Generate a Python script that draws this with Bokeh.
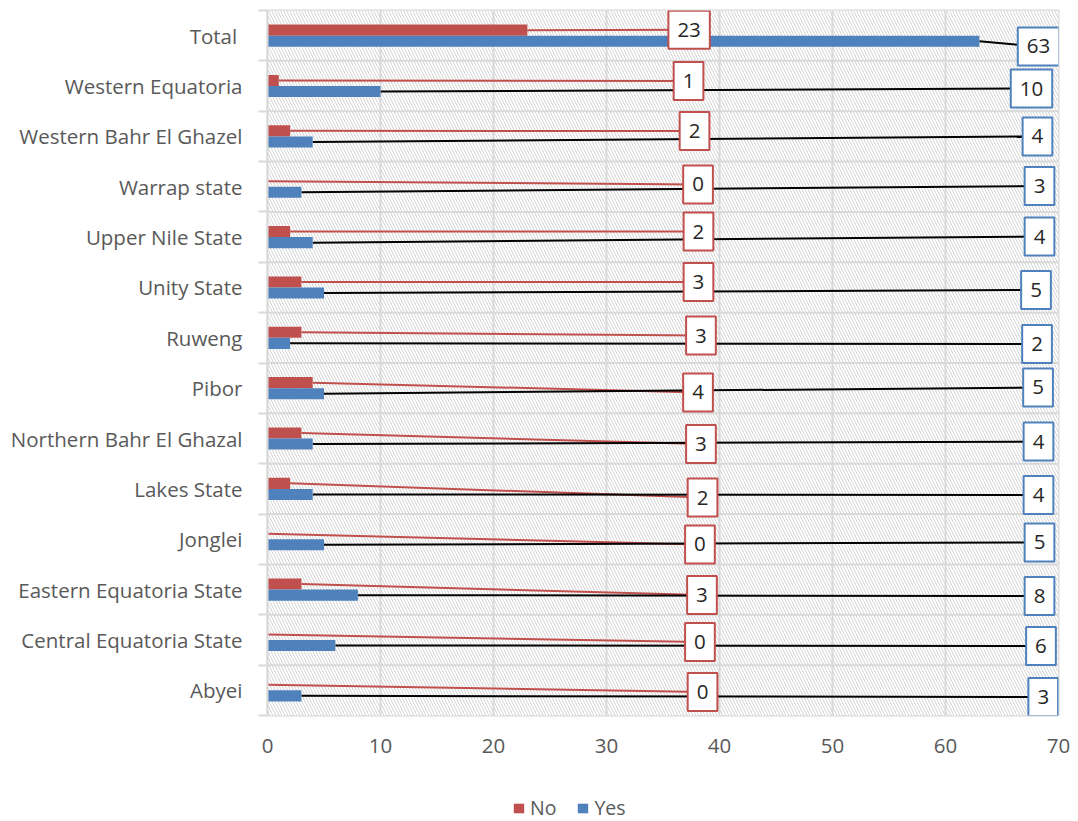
from bokeh.plotting import figure
from bokeh.layouts import column
from bokeh.models import Range1d, FixedTicker, Label, Legend, LegendItem
from bokeh.embed import file_html
from bokeh.resources import INLINE

# Rows listed bottom to top
categories = [
    "Abyei",
    "Central Equatoria State",
    "Eastern Equatoria State",
    "Jonglei",
    "Lakes State",
    "Northern Bahr El Ghazal",
    "Pibor",
    "Ruweng",
    "Unity State",
    "Upper Nile State",
    "Warrap state",
    "Western Bahr El Ghazel",
    "Western Equatoria",
    "Total ",
]
no_counts = [0, 0, 3, 0, 2, 3, 4, 3, 3, 2, 0, 2, 1, 23]
yes_counts = [3, 6, 8, 5, 4, 4, 5, 2, 5, 4, 3, 4, 10, 63]
series_names = ["No", "Yes"]
x_ticks = [0, 10, 20, 30, 40, 50, 60, 70]

# Where the boxed value call-outs sit (x in axis units, dy as a fraction of a row)
no_label_x = [38.50, 38.27, 38.45, 38.27, 38.50, 38.36, 38.10, 38.36, 38.14, 38.14, 38.10, 37.79, 37.26, 37.31]
yes_label_x = [68.65, 68.45, 68.32, 68.32, 68.23, 68.23, 68.19, 68.10, 68.01, 68.32, 68.32, 68.14, 67.61, 68.23]
no_label_dy = [-0.034, -0.04, -0.107, -0.103, -0.171, -0.109, -0.085, 0.046, 0.109, 0.111, 0.046, 0.107, 0.099, 0.119]
yes_label_dy = [-0.133, -0.119, -0.127, -0.064, -0.121, -0.06, 0.014, -0.123, -0.05, 0.012, 0.016, 0.0, -0.05, -0.214]

RED = "#c0504d"
BLUE = "#4f81bd"
GRID = "#d9d9d9"
TEXT = "#595959"
FONT = "Open Sans"
FONT_SIZE = "20.5px"

n = len(categories)
rows = list(range(n))
X_MAX = x_ticks[-1]
BAR_H = 0.22
BAR_SHIFT = 0.11

W = 1078
CHART_H = 765
LEGEND_H = 56

p = figure(
    width=W, height=CHART_H,
    output_backend="svg", toolbar_location=None,
    x_range=Range1d(0, X_MAX), y_range=Range1d(-0.5, n - 0.5),
    min_border_left=267, min_border_right=20,
    min_border_top=10, min_border_bottom=50,
)
p.background_fill_color = "white"
p.border_fill_color = "white"
p.outline_line_color = GRID
p.outline_line_width = 2
p.xgrid.visible = False
p.ygrid.visible = False

# Hatched plot area
p.quad(left=[0], right=[X_MAX], bottom=[-0.5], top=[n - 0.5],
       fill_color="white", line_color=None,
       hatch_pattern="\\", hatch_color="#d4d4d4", hatch_scale=6, hatch_weight=1)

# Grid: vertical value lines and row separators
inner_x = [t for t in x_ticks if 0 < t < X_MAX]
p.segment(x0=inner_x, y0=[-0.5] * len(inner_x), x1=inner_x, y1=[n - 0.5] * len(inner_x),
          line_color=GRID, line_width=2)
seps = [i + 0.5 for i in range(n - 1)]
p.segment(x0=[0] * len(seps), y0=seps, x1=[X_MAX] * len(seps), y1=seps,
          line_color=GRID, line_width=2)

no_y = [i + BAR_SHIFT for i in rows]
yes_y = [i - BAR_SHIFT for i in rows]

# Leader lines from bar ends to the call-outs
p.segment(x0=no_counts, y0=no_y, x1=no_label_x,
          y1=[i + d for i, d in zip(rows, no_label_dy)],
          line_color=RED, line_width=2)
p.segment(x0=yes_counts, y0=yes_y, x1=yes_label_x,
          y1=[i + d for i, d in zip(rows, yes_label_dy)],
          line_color="black", line_width=2)

p.hbar(y=no_y, left=0, right=no_counts, height=BAR_H, fill_color=RED, line_color=None)
p.hbar(y=yes_y, left=0, right=yes_counts, height=BAR_H, fill_color=BLUE, line_color=None)

# Boxed value call-outs
for i in rows:
    for val, lx, dy, col in ((no_counts[i], no_label_x[i], no_label_dy[i], RED),
                             (yes_counts[i], yes_label_x[i], yes_label_dy[i], BLUE)):
        p.add_layout(Label(
            x=lx, y=i + dy, text=str(val),
            text_align="center", text_baseline="middle",
            text_font=FONT, text_font_size=FONT_SIZE, text_color="#262626",
            background_fill_color="white",
            border_line_color=col, border_line_width=2,
            padding=(9, 12),
        ))

# Category axis
yax = p.yaxis[0]
yax.ticker = FixedTicker(ticks=rows, minor_ticks=[i - 0.5 for i in range(n + 1)])
yax.major_label_overrides = {i: c for i, c in enumerate(categories)}
yax.major_tick_line_color = None
yax.major_tick_out = 0
yax.major_tick_in = 0
yax.minor_tick_line_color = GRID
yax.minor_tick_line_width = 2
yax.minor_tick_out = 9
yax.minor_tick_in = 0
yax.axis_line_color = GRID
yax.axis_line_width = 2
yax.major_label_standoff = 16
yax.major_label_text_font = FONT
yax.major_label_text_font_size = FONT_SIZE
yax.major_label_text_color = TEXT

# Value axis
xax = p.xaxis[0]
xax.ticker = FixedTicker(ticks=x_ticks, minor_ticks=[])
xax.major_tick_line_color = None
xax.major_tick_out = 0
xax.major_tick_in = 0
xax.minor_tick_line_color = None
xax.axis_line_color = None
xax.major_label_standoff = 23
xax.major_label_text_font = FONT
xax.major_label_text_font_size = FONT_SIZE
xax.major_label_text_color = TEXT

# Legend strip under the chart (its frame lines up with the chart's frame)
lg = figure(
    width=W, height=LEGEND_H,
    output_backend="svg", toolbar_location=None,
    x_axis_location=None, y_axis_location=None,
    x_range=Range1d(0, 1), y_range=Range1d(0, 1),
    min_border=0,
)
lg.outline_line_color = None
lg.outline_line_alpha = 0
lg.background_fill_color = None
lg.border_fill_color = None
lg.grid.visible = False
# key swatches: zero-height bars, never visible in the strip itself
no_key = lg.hbar(y=[-5], left=[0], right=[0], height=0.5, fill_color=RED, line_color=None)
yes_key = lg.hbar(y=[-5], left=[0], right=[0], height=0.5, fill_color=BLUE, line_color=None)
legend = Legend(
    items=[LegendItem(label=series_names[0], renderers=[no_key]),
           LegendItem(label=series_names[1], renderers=[yes_key])],
    orientation="horizontal", location=(245, 0),
    label_text_font=FONT, label_text_font_size="19.5px", label_text_color=TEXT,
    glyph_width=13, glyph_height=12, label_standoff=5, spacing=20,
    padding=0, margin=0, border_line_color=None, background_fill_alpha=0,
)
lg.add_layout(legend, "center")

open("out.html", "w").write(file_html(column(p, lg, spacing=0), INLINE))
